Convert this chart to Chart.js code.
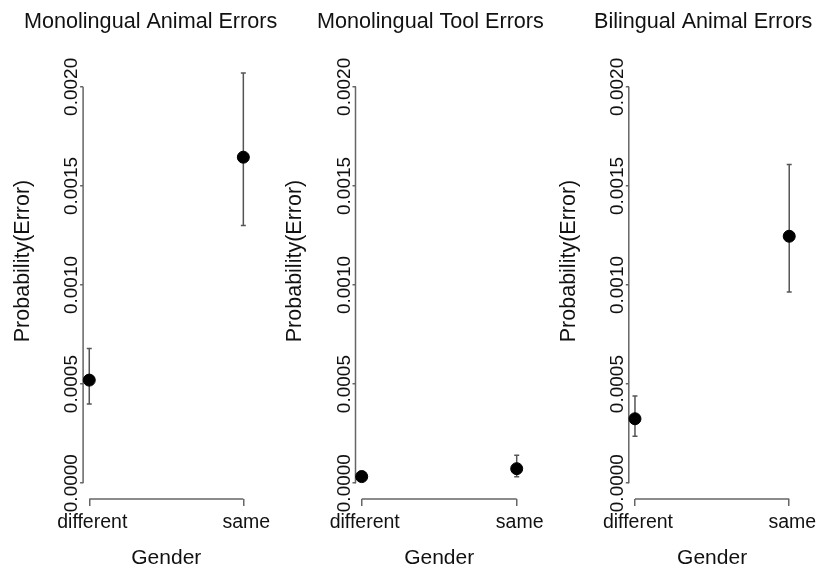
<!DOCTYPE html>
<html><head><meta charset="utf-8">
<script src="https://cdn.jsdelivr.net/npm/chart.js@4.4.1/dist/chart.umd.min.js"></script>
<style>
html,body{margin:0;padding:0;background:#fff;}
#wrap{position:relative;width:816px;height:567px;overflow:hidden;background:#fff;}
canvas{position:absolute;top:0;}
</style></head><body>
<div id="wrap">
<canvas id="c0" width="300" height="567" style="left:0px"></canvas>
<canvas id="c1" width="300" height="567" style="left:272px"></canvas>
<canvas id="c2" width="272" height="567" style="left:544px"></canvas>
</div>
<script>
// ---- data ----
const categories = ['different', 'same'];
const panelTitles = ['Monolingual Animal Errors', 'Monolingual Tool Errors', 'Bilingual Animal Errors'];
const xAxisTitle = 'Gender';
const yAxisTitle = 'Probability(Error)';
const yTickValues = [0, 0.0005, 0.0010, 0.0015, 0.0020];
const yTickLabels = ['0.0000', '0.0005', '0.0010', '0.0015', '0.0020'];

const monoAnimalMean  = [0.00052, 0.001645];
const monoAnimalLower = [0.00040, 0.00130];
const monoAnimalUpper = [0.00068, 0.00207];

const monoToolMean  = [0.000033, 0.000073];
const monoToolLower = [0.000012, 0.000032];
const monoToolUpper = [0.000060, 0.000141];

const biAnimalMean  = [0.000325, 0.001246];
const biAnimalLower = [0.000237, 0.000965];
const biAnimalUpper = [0.00044, 0.001608];

// ---- style / layout ----
const FONT = '"Liberation Sans", Arial, Helvetica, sans-serif';
const TEXT = '#111';
const AXIS = '#666';
const Y_AXIS_W = 60;
const panels = [
  {id:'c0', w:300, title:panelTitles[0], mean:monoAnimalMean, lower:monoAnimalLower, upper:monoAnimalUpper, left:83.1, right:249.5, titleX:24},
  {id:'c1', w:300, title:panelTitles[1], mean:monoToolMean,   lower:monoToolLower,   upper:monoToolUpper,   left:83.5, right:250.9, titleX:45},
  {id:'c2', w:272, title:panelTitles[2], mean:biAnimalMean,   lower:biAnimalLower,   upper:biAnimalUpper,   left:84.8, right:251.4, titleX:50}
];

const decor = {
  id: 'decor',
  beforeDatasetsDraw(chart, args, opts) {
    const {ctx, chartArea, scales: {x, y}} = chart;
    ctx.save();
    ctx.strokeStyle = AXIS; ctx.lineWidth = 1.5;
    ctx.beginPath();
    ctx.moveTo(chartArea.left, y.getPixelForValue(yTickValues[0]));
    ctx.lineTo(chartArea.left, y.getPixelForValue(yTickValues[yTickValues.length - 1]));
    ctx.moveTo(x.getPixelForValue(1), chartArea.bottom);
    ctx.lineTo(x.getPixelForValue(categories.length), chartArea.bottom);
    ctx.stroke();
    ctx.strokeStyle = '#555'; ctx.lineWidth = 1.5;
    opts.lower.forEach((lo, i) => {
      const px = x.getPixelForValue(i + 1);
      const p1 = y.getPixelForValue(lo), p2 = y.getPixelForValue(opts.upper[i]);
      ctx.beginPath();
      ctx.moveTo(px, p1); ctx.lineTo(px, p2);
      ctx.moveTo(px - 2.5, p1); ctx.lineTo(px + 2.5, p1);
      ctx.moveTo(px - 2.5, p2); ctx.lineTo(px + 2.5, p2);
      ctx.stroke();
    });
    ctx.restore();
  },
  afterDraw(chart, args, opts) {
    const {ctx, chartArea} = chart;
    ctx.save();
    ctx.fillStyle = TEXT;
    ctx.font = '21.6px ' + FONT;
    ctx.textBaseline = 'middle'; ctx.textAlign = 'left';
    ctx.fillText(opts.title, opts.titleX, 22);
    ctx.translate(chartArea.left - 60, chartArea.top + 190);
    ctx.rotate(-Math.PI / 2);
    ctx.textAlign = 'center';
    ctx.font = '21.5px ' + FONT;
    ctx.fillText(yAxisTitle, 0, 0);
    ctx.restore();
  }
};

panels.forEach(p => {
  new Chart(document.getElementById(p.id), {
    type: 'scatter',
    data: {
      datasets: [{
        data: categories.map((c, i) => ({x: i + 1, y: p.mean[i]})),
        pointRadius: 6, pointHoverRadius: 6,
        pointBackgroundColor: '#000', pointBorderColor: '#000', pointBorderWidth: 1,
        clip: false
      }]
    },
    options: {
      responsive: false, animation: false, events: [],
      layout: {autoPadding: false, padding: {left: p.left - Y_AXIS_W, right: p.w - p.right, top: 71, bottom: 0}},
      plugins: {
        legend: {display: false}, tooltip: {enabled: false}, title: {display: false},
        decor: {title: p.title, titleX: p.titleX, lower: p.lower, upper: p.upper}
      },
      scales: {
        x: {
          type: 'linear', min: 0.96, max: 2.04,
          afterBuildTicks: s => { s.ticks = categories.map((c, i) => ({value: i + 1})); },
          afterFit: s => { s.height = 68; s.paddingLeft = 0; s.paddingRight = 0; },
          ticks: {callback: (v, i) => categories[i], font: {family: FONT, size: 19.5}, color: TEXT,
                  padding: 4.5, autoSkip: false, maxRotation: 0, minRotation: 0, labelOffset: 3},
          grid: {drawOnChartArea: false, drawTicks: true, tickLength: 7, color: AXIS, lineWidth: 1.5},
          border: {display: false},
          title: {display: true, text: xAxisTitle, font: {family: FONT, size: 21}, color: TEXT,
                  padding: {top: 0, bottom: -3.6}}
        },
        y: {
          type: 'linear', min: -0.00008, max: 0.00208,
          afterBuildTicks: s => { s.ticks = yTickValues.map(v => ({value: v})); },
          afterFit: s => { s.width = Y_AXIS_W; s.paddingTop = 0; s.paddingBottom = 0; },
          ticks: {callback: (v, i) => yTickLabels[i], font: {family: FONT, size: 19}, color: TEXT,
                  minRotation: 90, maxRotation: 90, crossAlign: 'center', padding: -21, autoSkip: false},
          grid: {drawOnChartArea: false, drawTicks: true, tickLength: 3, color: AXIS, lineWidth: 1.5},
          border: {display: false}
        }
      }
    },
    plugins: [decor]
  });
});
</script>
</body></html>
